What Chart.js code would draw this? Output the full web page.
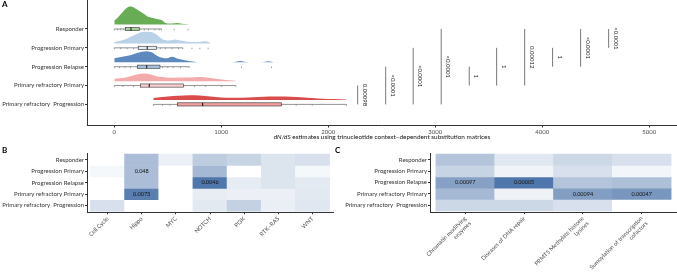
<!DOCTYPE html>
<html><head><meta charset="utf-8">
<script src="https://cdn.jsdelivr.net/npm/chart.js@4.4.1/dist/chart.umd.min.js"></script>
<style>
html,body{margin:0;padding:0;background:#fff;width:677px;height:273px;overflow:hidden;position:relative;font-family:Lato,sans-serif}
canvas{position:absolute}
.lab{position:absolute;font:bold 8px Lato,sans-serif;color:#000;line-height:8px}
</style></head><body>
<canvas id="cA" width="677" height="140" style="left:0;top:0"></canvas>
<canvas id="cB" width="338" height="133" style="left:0;top:140px"></canvas>
<canvas id="cC" width="342" height="133" style="left:335px;top:140px"></canvas>
<div class="lab" style="left:2px;top:0px">A</div>
<div class="lab" style="left:2px;top:146px">B</div>
<div class="lab" style="left:335px;top:146px">C</div>
<script>
// ---------- DATA ----------
const groups = ["Responder","Progression Primary","Progression Relapse","Primary refractory Primary","Primary refractory  Progression"];
const groupRows = [5,4,3,2,1];
// density estimates [dN/dS, relative density]
const densResponder = [[0,4],[25,6],[50,9],[75,12],[100,15],[130,17.5],[160,18],[190,16.5],[220,14.5],[250,12.5],[280,10.5],[310,8],[340,7],[380,6],[420,5],[450,4],[470,2],[500,1],[540,1],[590,1.5],[630,0.8],[690,0.3]];
const densProgPrimary = [[0,1.5],[50,2.5],[100,4],[150,6.5],[200,9],[240,11],[280,11.7],[320,11.7],[360,11],[400,8.5],[440,5],[480,3.2],[520,3],[570,4],[620,3],[670,2],[720,1.5],[780,1.5],[840,2.3],[870,2],[900,0.3]];
const densProgRelapse = [[0,4],[50,5],[100,6],[150,7],[220,9.5],[300,11],[350,10],[400,6.5],[445,4.5],[490,4],[540,5.5],[595,3.5],[660,2],[710,1],[760,0.4],[820,0],[1100,0],[1140,0.5],[1175,1.2],[1215,0.5],[1260,0],[1380,0],[1410,0.5],[1440,1],[1480,0.3],[1500,0]];
const densPRPrimary = [[0,2.5],[50,3],[100,3.5],[150,5],[200,6.5],[250,7.5],[290,7.7],[330,7],[380,5.5],[430,4.3],[480,3.7],[550,3.5],[650,3.6],[750,4],[810,4.2],[880,3.4],[950,2.5],[1020,1.5],[1080,0.8],[1137,0.3]];
const densPRProgression = [[365,2],[450,3],[550,4],[650,4.6],[750,4.7],[850,4],[950,3],[1050,2.3],[1150,2.2],[1250,2.5],[1350,3],[1450,3.4],[1550,3.5],[1650,3.3],[1750,2.8],[1850,2],[1950,1.3],[2050,0.9],[2172,0.6]];
// box stats [min, q1, median, q3, max]
const boxResponder = [0,103,156,234,443];
const boxProgPrimary = [0,224,308,396,640];
const boxProgRelapse = [0,215,303,427,700];
const boxPRPrimary = [0,243,327,648,1137];
const boxPRProgression = [365,589,826,1564,2172];
// observations
const ptsResponder = [0,30,60,90,110,130,150,170,200,240,280,320,380,420,443,560,690];
const ptsProgPrimary = [0,60,120,180,230,260,300,340,390,430,480,540,600,640,726,800,877];
const ptsProgRelapse = [0,50,100,150,215,250,300,350,400,450,500,550,620,700,1190,1470];
const ptsPRPrimary = [0,80,180,250,300,330,380,450,550,650,750,850,1000,1137];
const ptsPRProgression = [365,450,520,600,700,780,830,900,1200,1350,1500,1560,1700,1850,2172];
const xTicksA = [0,1000,2000,3000,4000,5000];
// significance comparisons (row positions)
const sigFrom = [1,1,1,1,2,2,2,3,3,4];
const sigTo   = [2,3,4,5,3,4,5,4,5,5];
const sigAt   = [2275,2537,2794,3056,3318,3574,3836,4097,4359,4621];
const sigLabels = ["0.00098","<0.0001","<0.0001","<0.0001","1","1","0.00012","1","<0.0001","<0.0001"];

// Panel B
const pathwaysB = ["Cell Cycle","Hippo","MYC","NOTCH","PI3K","RTK–RAS","WNT"];
const hbResponder     = [0,0.44,0.10,0.34,0.29,0.18,0.21];
const hbProgPrimary   = [0.05,0.44,0,0.47,0,0.18,0.05];
const hbProgRelapse   = [0,0.44,0,0.91,0.13,0.18,0.14];
const hbPRPrimary     = [0,0.86,0,0.12,0.10,0.10,0.15];
const hbPRProgression = [0.21,0,0,0.15,0.31,0.11,0.16];
const textB = [["Progression Primary","Hippo","0.048"],["Progression Relapse","NOTCH","0.0046"],["Primary refractory Primary","Hippo","0.0073"]];

// Panel C
const pathwaysC = [["Chromatin modifying","enzymes"],"Diseases of DNA repair",["PRMT5 Methylate histone","Lysines"],["Sumoylation of transcription","cofactors"]];
const hcResponder     = [0.39,0.16,0.26,0.21];
const hcProgPrimary   = [0.29,0.08,0.21,0.07];
const hcProgRelapse   = [0.63,0.91,0.39,0.42];
const hcPRPrimary     = [0.47,0.09,0.65,0.70];
const hcPRProgression = [0.26,0.26,0.21,0];
const textC = [["Progression Relapse",0,"0.00097"],["Progression Relapse",1,"0.00005"],["Primary refractory Primary",2,"0.00094"],["Primary refractory Primary",3,"0.00047"]];

// ---------- STYLE ----------
Chart.defaults.font.family = 'Lato';
const fills = ['#68ad56','#bad2e7','#5d89bf','#f3acab','#da4c4b'];
const boxFills = ['#a6d29a','#e2ecf5','#a6bfdd','#f7d0cf','#ef9f9e'];
const BASE = 0.233, PXU = 1/18.85;
const AX = '#333';
const LABEL_SIZE = 6;

const densAll = [densResponder,densProgPrimary,densProgRelapse,densPRPrimary,densPRProgression];
const boxAll = [boxResponder,boxProgPrimary,boxProgRelapse,boxPRPrimary,boxPRProgression];
const ptsAll = [ptsResponder,ptsProgPrimary,ptsProgRelapse,ptsPRPrimary,ptsPRProgression];

const rainPlugin = {
  id:'rain',
  afterDatasetsDraw(chart){
    const ctx = chart.ctx, xs = chart.scales.x, ys = chart.scales.y;
    ctx.save();
    boxAll.forEach((b,i)=>{
      const y = ys.getPixelForValue(groupRows[i]);
      ctx.strokeStyle = '#666'; ctx.lineWidth = 0.7;
      ctx.beginPath(); ctx.moveTo(xs.getPixelForValue(b[0]), y); ctx.lineTo(xs.getPixelForValue(b[4]), y); ctx.stroke();
      ctx.fillStyle = '#888';
      ptsAll[i].forEach(v=>{ ctx.fillRect(xs.getPixelForValue(v)-0.4, y-0.2, 0.8, 1.6); });
      const x1 = xs.getPixelForValue(b[1]), x3 = xs.getPixelForValue(b[3]);
      const h = 1.6;
      ctx.fillStyle = boxFills[i];
      ctx.fillRect(x1, y-h, x3-x1, 2*h);
      ctx.strokeStyle = '#333'; ctx.lineWidth = 0.6;
      ctx.strokeRect(x1, y-h, x3-x1, 2*h);
      const xm = xs.getPixelForValue(b[2]);
      ctx.strokeStyle = '#111'; ctx.lineWidth = 1;
      ctx.beginPath(); ctx.moveTo(xm, y-h); ctx.lineTo(xm, y+h); ctx.stroke();
    });
    sigAt.forEach((v,i)=>{
      const x = xs.getPixelForValue(v);
      const ya = ys.getPixelForValue(sigFrom[i]), yb = ys.getPixelForValue(sigTo[i]);
      ctx.strokeStyle = '#555'; ctx.lineWidth = 0.8;
      ctx.beginPath(); ctx.moveTo(x, ya); ctx.lineTo(x, yb); ctx.stroke();
      ctx.save();
      ctx.translate(x+7, (ya+yb)/2);
      ctx.rotate(Math.PI/2);
      ctx.fillStyle = '#111'; ctx.font = '6px Lato';
      ctx.textAlign = 'center'; ctx.textBaseline = 'middle';
      ctx.fillText(sigLabels[i], 0, 0);
      ctx.restore();
    });
    ctx.restore();
  },
  afterDraw(chart){
    const ctx = chart.ctx, a = chart.chartArea;
    const p1 = 'dN/dS', p2 = ' estimates using trinucleotide context–dependent substitution matrices';
    ctx.save();
    ctx.fillStyle = '#111'; ctx.textBaseline = 'middle';
    ctx.font = 'italic 6.4px Lato'; const w1 = ctx.measureText(p1).width;
    ctx.font = '6.4px Lato'; const w2 = ctx.measureText(p2).width;
    let x0 = (a.left + a.right)/2 - (w1+w2)/2;
    ctx.font = 'italic 6.4px Lato'; ctx.fillText(p1, x0, 137);
    ctx.font = '6.4px Lato'; ctx.fillText(p2, x0+w1, 137);
    ctx.restore();
  }
};

new Chart(document.getElementById('cA'), {
  type:'line',
  data:{datasets: densAll.map((d,i)=>({
    data: d.map(([v,h])=>({x:v, y:groupRows[i]+BASE+h*PXU})),
    fill:{value: groupRows[i]+BASE},
    backgroundColor: fills[i], borderColor:'rgba(0,0,0,0)', borderWidth:0,
    pointRadius:0, cubicInterpolationMode:'monotone'
  }))},
  options:{
    responsive:false, animation:false, events:[],
    layout:{padding:0},
    plugins:{legend:{display:false}, tooltip:{enabled:false}},
    scales:{
      x:{type:'linear', min:-255, max:5260,
        afterBuildTicks:s=>{s.ticks = xTicksA.map(v=>({value:v}));},
        afterFit:s=>{s.height=15; s.paddingLeft=0; s.paddingRight=0;},
        grid:{drawOnChartArea:false, tickLength:2.5, tickColor:AX},
        border:{color:AX, width:1},
        ticks:{color:'#4d4d4d', font:{size:6}, padding:0.5, maxRotation:0, autoSkip:false, callback:v=>String(v)}},
      y:{type:'linear', min:-0.093, max:6.538,
        afterBuildTicks:s=>{s.ticks = groupRows.map(v=>({value:v}));},
        afterFit:s=>{s.width=87; s.paddingTop=0; s.paddingBottom=0;},
        grid:{drawOnChartArea:false, tickLength:2, tickColor:AX},
        border:{color:AX, width:1},
        ticks:{color:'#333', font:{size:LABEL_SIZE}, padding:1, autoSkip:false, callback:v=>groups[groupRows.indexOf(v)]}}
    }
  },
  plugins:[rainPlugin]
});

function shade(t){
  const r = Math.round(255 - t*(255-63)), g = Math.round(255 - t*(255-105)), b = Math.round(255 - t*(255-163));
  return `rgb(${r},${g},${b})`;
}

function heatmap(id, cols, rows, texts, colIndexOf, yWidth, padRight, xHeight){
  const textPlugin = {
    id:'cellText',
    afterDatasetsDraw(chart){
      const ctx = chart.ctx, xs = chart.scales.x, ys = chart.scales.y;
      ctx.save();
      ctx.fillStyle = '#111'; ctx.font = '5.5px Lato';
      ctx.textAlign = 'center'; ctx.textBaseline = 'middle';
      texts.forEach(([g,c,t])=>{
        const r = groupRows[groups.indexOf(g)];
        ctx.fillText(t, xs.getPixelForValue(colIndexOf(c)+1), ys.getPixelForValue(r));
      });
      ctx.restore();
    }
  };
  return new Chart(document.getElementById(id), {
    type:'bar',
    data:{datasets: rows.map((vals,ri)=>({
      data: cols.map((c,ci)=>({x:ci+1, y:[groupRows[ri]-0.5, groupRows[ri]+0.5]})),
      backgroundColor: vals.map(shade), borderWidth:0,
      barPercentage:1, categoryPercentage:1, grouped:false
    }))},
    options:{
      responsive:false, animation:false, events:[],
      layout:{padding:{top:13, right:padRight, left:0, bottom:0}},
      plugins:{legend:{display:false}, tooltip:{enabled:false}},
      scales:{
        x:{type:'linear', min:0.4, max:cols.length+0.6, offset:false,
          afterBuildTicks:s=>{s.ticks = cols.map((c,i)=>({value:i+1}));},
          afterFit:s=>{s.height=xHeight; s.paddingLeft=0; s.paddingRight=0;},
          grid:{drawOnChartArea:false, offset:false, tickLength:2, tickColor:AX},
          border:{color:AX, width:1},
          ticks:{color:'#4d4d4d', font:{size:5.8}, padding:1, minRotation:45, maxRotation:45, autoSkip:false, callback:v=>cols[v-1]}},
        y:{type:'linear', min:0.4, max:5.6,
          afterBuildTicks:s=>{s.ticks = groupRows.map(v=>({value:v}));},
          afterFit:s=>{s.width=yWidth; s.paddingTop=0; s.paddingBottom=0;},
          grid:{drawOnChartArea:false, tickLength:2, tickColor:AX},
          border:{color:AX, width:1},
          ticks:{color:'#333', font:{size:LABEL_SIZE}, padding:1, autoSkip:false, callback:v=>groups[groupRows.indexOf(v)]}}
      }
    },
    plugins:[textPlugin]
  });
}

heatmap('cB', pathwaysB, [hbResponder,hbProgPrimary,hbProgRelapse,hbPRPrimary,hbPRProgression], textB, c=>pathwaysB.indexOf(c), 87, 5, 60.7);
heatmap('cC', pathwaysC, [hcResponder,hcProgPrimary,hcProgRelapse,hcPRPrimary,hcPRProgression], textC, c=>c, 95, 0, 61);
</script>
</body></html>
